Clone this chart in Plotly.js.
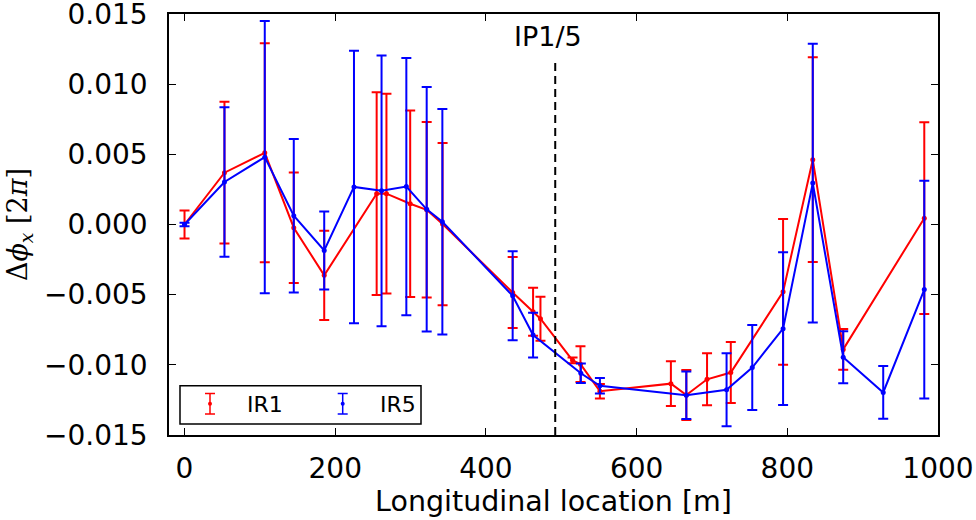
<!DOCTYPE html>
<html>
<head>
<meta charset="utf-8">
<script src="https://cdn.plot.ly/plotly-3.0.1.min.js"></script>
<style>html,body{margin:0;padding:0;background:#fff;}#chart{width:976px;height:520px;}</style>
</head>
<body>
<div id="chart"></div>
<script>
// IR1 (red) : longitudinal location [m], phase deviation [2pi], error
const ir1X = [0, 53, 106.5, 145, 185.4, 255, 268, 299.5, 321.4, 342.5, 435.5, 462.6, 472.4, 515, 525.5, 551.3, 645.5, 666, 693.5, 725, 794.4, 833.8, 874.2, 981.8];
const ir1Y = [0, 0.00369, 0.00511, -0.00023, -0.00362, 0.0022, 0.0022, 0.00148, 0.00105, 0.00003, -0.00485, -0.00621, -0.00671, -0.00968, -0.00995, -0.01188, -0.01134, -0.01215, -0.01103, -0.01055, -0.0048, 0.00462, -0.0089, 0.00045];
const ir1Err = [0.001, 0.00505, 0.0078, 0.00393, 0.00318, 0.00722, 0.00712, 0.00664, 0.00625, 0.00578, 0.00253, 0.00171, 0.00157, 0.0002, 0.00127, 0.00052, 0.0016, 0.00178, 0.00185, 0.00217, 0.0052, 0.0073, 0.00145, 0.00683];

// IR5 (blue)
const ir5X = [0, 53, 106.5, 145, 185.4, 224.9, 261.5, 294.4, 321.4, 342.2, 435.5, 462.6, 526, 551.3, 666, 719.4, 753.5, 794.4, 833.8, 874.2, 927.3, 981.8];
const ir5Y = [0, 0.00303, 0.0048, 0.00063, -0.00185, 0.00268, 0.0024, 0.0027, 0.00108, 0.0002, -0.00508, -0.00788, -0.0106, -0.01149, -0.01217, -0.01178, -0.01019, -0.00742, 0.00295, -0.00946, -0.01197, -0.00464];
const ir5Err = [0.00012, 0.00533, 0.0097, 0.00547, 0.00278, 0.00971, 0.00965, 0.00916, 0.00871, 0.00803, 0.00317, 0.0016, 0.0007, 0.00056, 0.00169, 0.0026, 0.00302, 0.00545, 0.00993, 0.00186, 0.00188, 0.00776];

const seriesNames = ['IR1', 'IR5'];
const seriesColors = ['#ff0000', '#0000ff'];

const xTicks = [0, 200, 400, 600, 800, 1000];
const yTicks = [-0.015, -0.010, -0.005, 0.000, 0.005, 0.010, 0.015];
const ipLocation = 492;
const ipLabel = 'IP1/5';

function mkTrace(x, y, e, name, color) {
  return {
    type: 'scatter', mode: 'lines+markers', x: x, y: y, name: name,
    line: {color: color, width: 2},
    marker: {color: color, size: 5},
    error_y: {type: 'data', array: e, visible: true, color: color, thickness: 2, width: 5},
    showlegend: false
  };
}

const data = [
  mkTrace(ir1X, ir1Y, ir1Err, seriesNames[0], seriesColors[0]),
  mkTrace(ir5X, ir5Y, ir5Err, seriesNames[1], seriesColors[1])
];

const fontFam = 'DejaVu Sans, sans-serif';
const shapes = [
  {type: 'line', xref: 'x', yref: 'y', x0: ipLocation, x1: ipLocation, y0: -0.015, y1: 0.0117,
   line: {color: '#000', width: 2, dash: '8px,5px'}},
  // legend box
  {type: 'rect', xref: 'paper', yref: 'paper', x0: 0.0143, x1: 0.3277, y0: 0.026, y1: 0.117,
   line: {color: '#000', width: 1.5}, fillcolor: 'rgba(255,255,255,1)'}
];
// legend symbols (error bar glyphs)
const legSym = [{px: 210, color: seriesColors[0]}, {px: 342.7, color: seriesColors[1]}];
const plotL = 169, plotW = 769, plotB = 435, plotH = 421;
function pxX(p) { return (p - plotL) / plotW; }
function pxY(p) { return (plotB - p) / plotH; }
legSym.forEach(s => {
  shapes.push({type: 'line', xref: 'paper', yref: 'paper', x0: pxX(s.px), x1: pxX(s.px), y0: pxY(393.5), y1: pxY(414), line: {color: s.color, width: 1.5}});
  shapes.push({type: 'line', xref: 'paper', yref: 'paper', x0: pxX(s.px - 5), x1: pxX(s.px + 5), y0: pxY(393.5), y1: pxY(393.5), line: {color: s.color, width: 1.5}});
  shapes.push({type: 'line', xref: 'paper', yref: 'paper', x0: pxX(s.px - 5), x1: pxX(s.px + 5), y0: pxY(414), y1: pxY(414), line: {color: s.color, width: 1.5}});
  shapes.push({type: 'circle', xref: 'paper', yref: 'paper', x0: pxX(s.px - 2), x1: pxX(s.px + 2), y0: pxY(405.7), y1: pxY(401.7), line: {color: s.color, width: 0}, fillcolor: s.color});
});

const annotations = [
  {xref: 'x', yref: 'y', x: 482.5, y: 0.0134, text: ipLabel, showarrow: false,
   font: {family: fontFam, size: 27, color: '#000'}, xanchor: 'center', yanchor: 'middle'},
  {xref: 'paper', yref: 'paper', x: pxX(245), y: pxY(404), text: seriesNames[0], showarrow: false,
   font: {family: fontFam, size: 22, color: '#000'}, xanchor: 'left', yanchor: 'middle'},
  {xref: 'paper', yref: 'paper', x: pxX(378), y: pxY(404), text: seriesNames[1], showarrow: false,
   font: {family: fontFam, size: 22, color: '#000'}, xanchor: 'left', yanchor: 'middle'}
];

const layout = {
  width: 976, height: 520,
  margin: {l: 169, r: 38, t: 14, b: 85, pad: 0},
  paper_bgcolor: '#fff', plot_bgcolor: '#fff',
  font: {family: fontFam, color: '#000'},
  xaxis: {
    range: [-20.6, 1000.01], tickvals: xTicks, ticktext: xTicks.map(String),
    ticks: 'inside', ticklen: 7, tickwidth: 1, tickcolor: '#000',
    showline: true, linecolor: '#000', linewidth: 1.8, mirror: 'ticks',
    showgrid: false, zeroline: false,
    tickfont: {family: fontFam, size: 28, color: '#000'},
    ticklabelstandoff: 8, ticklabeloverflow: 'allow',
    title: {text: 'Longitudinal location [m]', font: {family: fontFam, size: 28.5, color: '#000'}, standoff: 4}
  },
  yaxis: {
    range: [-0.0150001, 0.0150001], tickvals: yTicks, ticktext: yTicks.map(v => (v < 0 ? '\u2212' : '') + Math.abs(v).toFixed(3)),
    ticks: 'inside', ticklen: 7, tickwidth: 1, tickcolor: '#000',
    showline: true, linecolor: '#000', linewidth: 1.8, mirror: 'ticks',
    showgrid: false, zeroline: false,
    tickfont: {family: fontFam, size: 28, color: '#000'},
    ticklabelstandoff: 14, ticklabeloverflow: 'allow',
    title: {text: 'Δ<i>ϕ</i><sub><i>x</i></sub> [2<i>π</i>]', font: {family: 'DejaVu Serif, serif', size: 27, color: '#000'}, standoff: 8}
  },
  shapes: shapes,
  annotations: annotations,
  showlegend: false
};

Plotly.newPlot('chart', data, layout, {displayModeBar: false, staticPlot: true});
</script>
</body>
</html>
